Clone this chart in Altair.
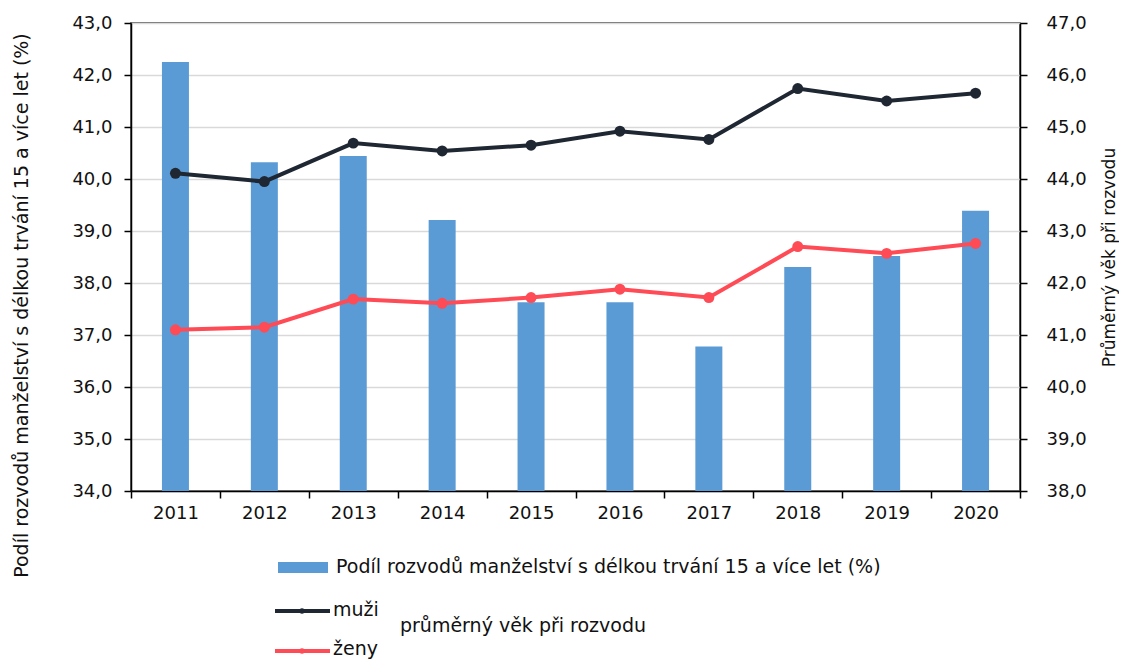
import altair as alt
import pandas as pd

years = ["2011", "2012", "2013", "2014", "2015", "2016", "2017", "2018", "2019", "2020"]
podil = [42.25, 40.32, 40.44, 39.21, 37.63, 37.63, 36.78, 38.31, 38.52, 39.39]
muzi = [44.11, 43.95, 44.69, 44.54, 44.65, 44.92, 44.76, 45.74, 45.50, 45.65]
zeny = [41.10, 41.15, 41.69, 41.61, 41.72, 41.88, 41.72, 42.70, 42.57, 42.76]

series_names = ["muži", "ženy"]
series_colors = ["#1f2733", "#ff4b55"]
bar_color = "#5b9bd5"

left_title = "Podíl rozvodů manželství s délkou trvání 15 a více let (%)"
right_title = "Průměrný věk při rozvodu"
legend_bar_label = "Podíl rozvodů manželství s délkou trvání 15 a více let (%)"
legend_group_label = "průměrný věk při rozvodu"

FONT = "DejaVu Sans"
TXT = "#111111"

df_bar = pd.DataFrame({"rok": years, "podil": podil})
df_line = pd.DataFrame({
    "rok": years * 2,
    "serie": [series_names[0]] * len(years) + [series_names[1]] * len(years),
    "vek": muzi + zeny,
})

fmt = "replace(format(datum.value, '.1f'), '.', ',')"

x_enc = alt.X(
    "rok:N",
    sort=years,
    scale=alt.Scale(paddingInner=0, paddingOuter=0),
    axis=alt.Axis(
        title=None, labelAngle=0, tickBand="extent", tickSize=7,
        labelPadding=6, labelFontSize=18, labelFont=FONT, labelColor=TXT,
        domainColor="#000", domainWidth=1.5, tickColor="#000", tickWidth=1.5,
        grid=False,
    ),
)

bars = alt.Chart(df_bar).mark_bar(size=27, color=bar_color, clip=True).encode(
    x=x_enc,
    y=alt.Y(
        "podil:Q",
        scale=alt.Scale(domain=[34, 43], nice=False, zero=False),
        axis=alt.Axis(
            orient="left", values=list(range(34, 44)), labelExpr=fmt,
            title=left_title, titleFont=FONT, titleFontSize=19, titleFontWeight="normal",
            titleColor=TXT, titleAngle=270, titleX=-110, titleY=282,
            titleAlign="center", titleBaseline="middle",
            labelFont=FONT, labelFontSize=18, labelColor=TXT, labelPadding=12,
            tickSize=7, tickColor="#000", tickWidth=1.5,
            domainColor="#000", domainWidth=1.5,
            grid=True, gridColor="#d9d9d9", gridWidth=1.5,
        ),
    ),
)

color_scale = alt.Scale(domain=series_names, range=series_colors)

y_right = alt.Y(
    "vek:Q",
    scale=alt.Scale(domain=[38, 47], nice=False, zero=False),
    axis=alt.Axis(
        orient="right", values=list(range(38, 48)), labelExpr=fmt,
        title=right_title, titleFont=FONT, titleFontSize=17, titleFontWeight="normal",
        titleColor=TXT, titleAngle=270, titleX=89, titleY=234,
        titleAlign="center", titleBaseline="middle",
        labelFont=FONT, labelFontSize=18, labelColor=TXT, labelPadding=19,
        tickSize=7, tickColor="#000", tickWidth=1.5,
        domainColor="#000", domainWidth=1.5, grid=False,
    ),
)

lines = alt.Chart(df_line).mark_line(strokeWidth=4).encode(
    x=alt.X("rok:N", sort=years),
    y=y_right,
    color=alt.Color("serie:N", scale=color_scale, legend=None),
)
points = alt.Chart(df_line).mark_point(filled=True, size=120, opacity=1).encode(
    x=alt.X("rok:N", sort=years),
    y=alt.Y("vek:Q"),
    color=alt.Color("serie:N", scale=color_scale, legend=None),
)
line_layer = alt.layer(lines, points)

one = pd.DataFrame({"k": [0]})
leg_rect = alt.Chart(one).mark_rect(color=bar_color).encode(
    x=alt.value(147), x2=alt.value(197), y=alt.value(539), y2=alt.value(550)
)
leg_txt_bar = alt.Chart(pd.DataFrame({"t": [legend_bar_label]})).mark_text(
    align="left", baseline="middle", font=FONT, fontSize=19, color=TXT
).encode(x=alt.value(205), y=alt.value(544), text="t:N")

leg_rule_m = alt.Chart(one).mark_rule(color=series_colors[0], strokeWidth=4).encode(
    x=alt.value(144), x2=alt.value(199), y=alt.value(588)
)
leg_rule_z = alt.Chart(one).mark_rule(color=series_colors[1], strokeWidth=4).encode(
    x=alt.value(144), x2=alt.value(199), y=alt.value(628)
)
leg_dot_m = alt.Chart(one).mark_point(filled=True, size=30, color=series_colors[0], opacity=1).encode(
    x=alt.value(171), y=alt.value(588)
)
leg_dot_z = alt.Chart(one).mark_point(filled=True, size=30, color=series_colors[1], opacity=1).encode(
    x=alt.value(171), y=alt.value(628)
)
leg_txt_m = alt.Chart(pd.DataFrame({"t": [series_names[0]]})).mark_text(
    align="left", baseline="middle", font=FONT, fontSize=19, color=TXT
).encode(x=alt.value(202), y=alt.value(587), text="t:N")
leg_txt_z = alt.Chart(pd.DataFrame({"t": [series_names[1]]})).mark_text(
    align="left", baseline="middle", font=FONT, fontSize=19, color=TXT
).encode(x=alt.value(202), y=alt.value(626), text="t:N")
leg_txt_g = alt.Chart(pd.DataFrame({"t": [legend_group_label]})).mark_text(
    align="left", baseline="middle", font=FONT, fontSize=19, color=TXT
).encode(x=alt.value(269), y=alt.value(603), text="t:N")

chart = alt.layer(
    bars, line_layer,
    leg_rect, leg_txt_bar, leg_rule_m, leg_rule_z, leg_dot_m, leg_dot_z,
    leg_txt_m, leg_txt_z, leg_txt_g,
).resolve_scale(y="independent").properties(
    width=889, height=468,
    autosize=alt.AutoSizeParams(type="none"),
    padding={"left": 123, "top": 15, "right": 99, "bottom": 170},
).configure_view(stroke="#333333", strokeWidth=1.5)

chart.save("out.html", embed_options={"renderer": "svg", "actions": False})
